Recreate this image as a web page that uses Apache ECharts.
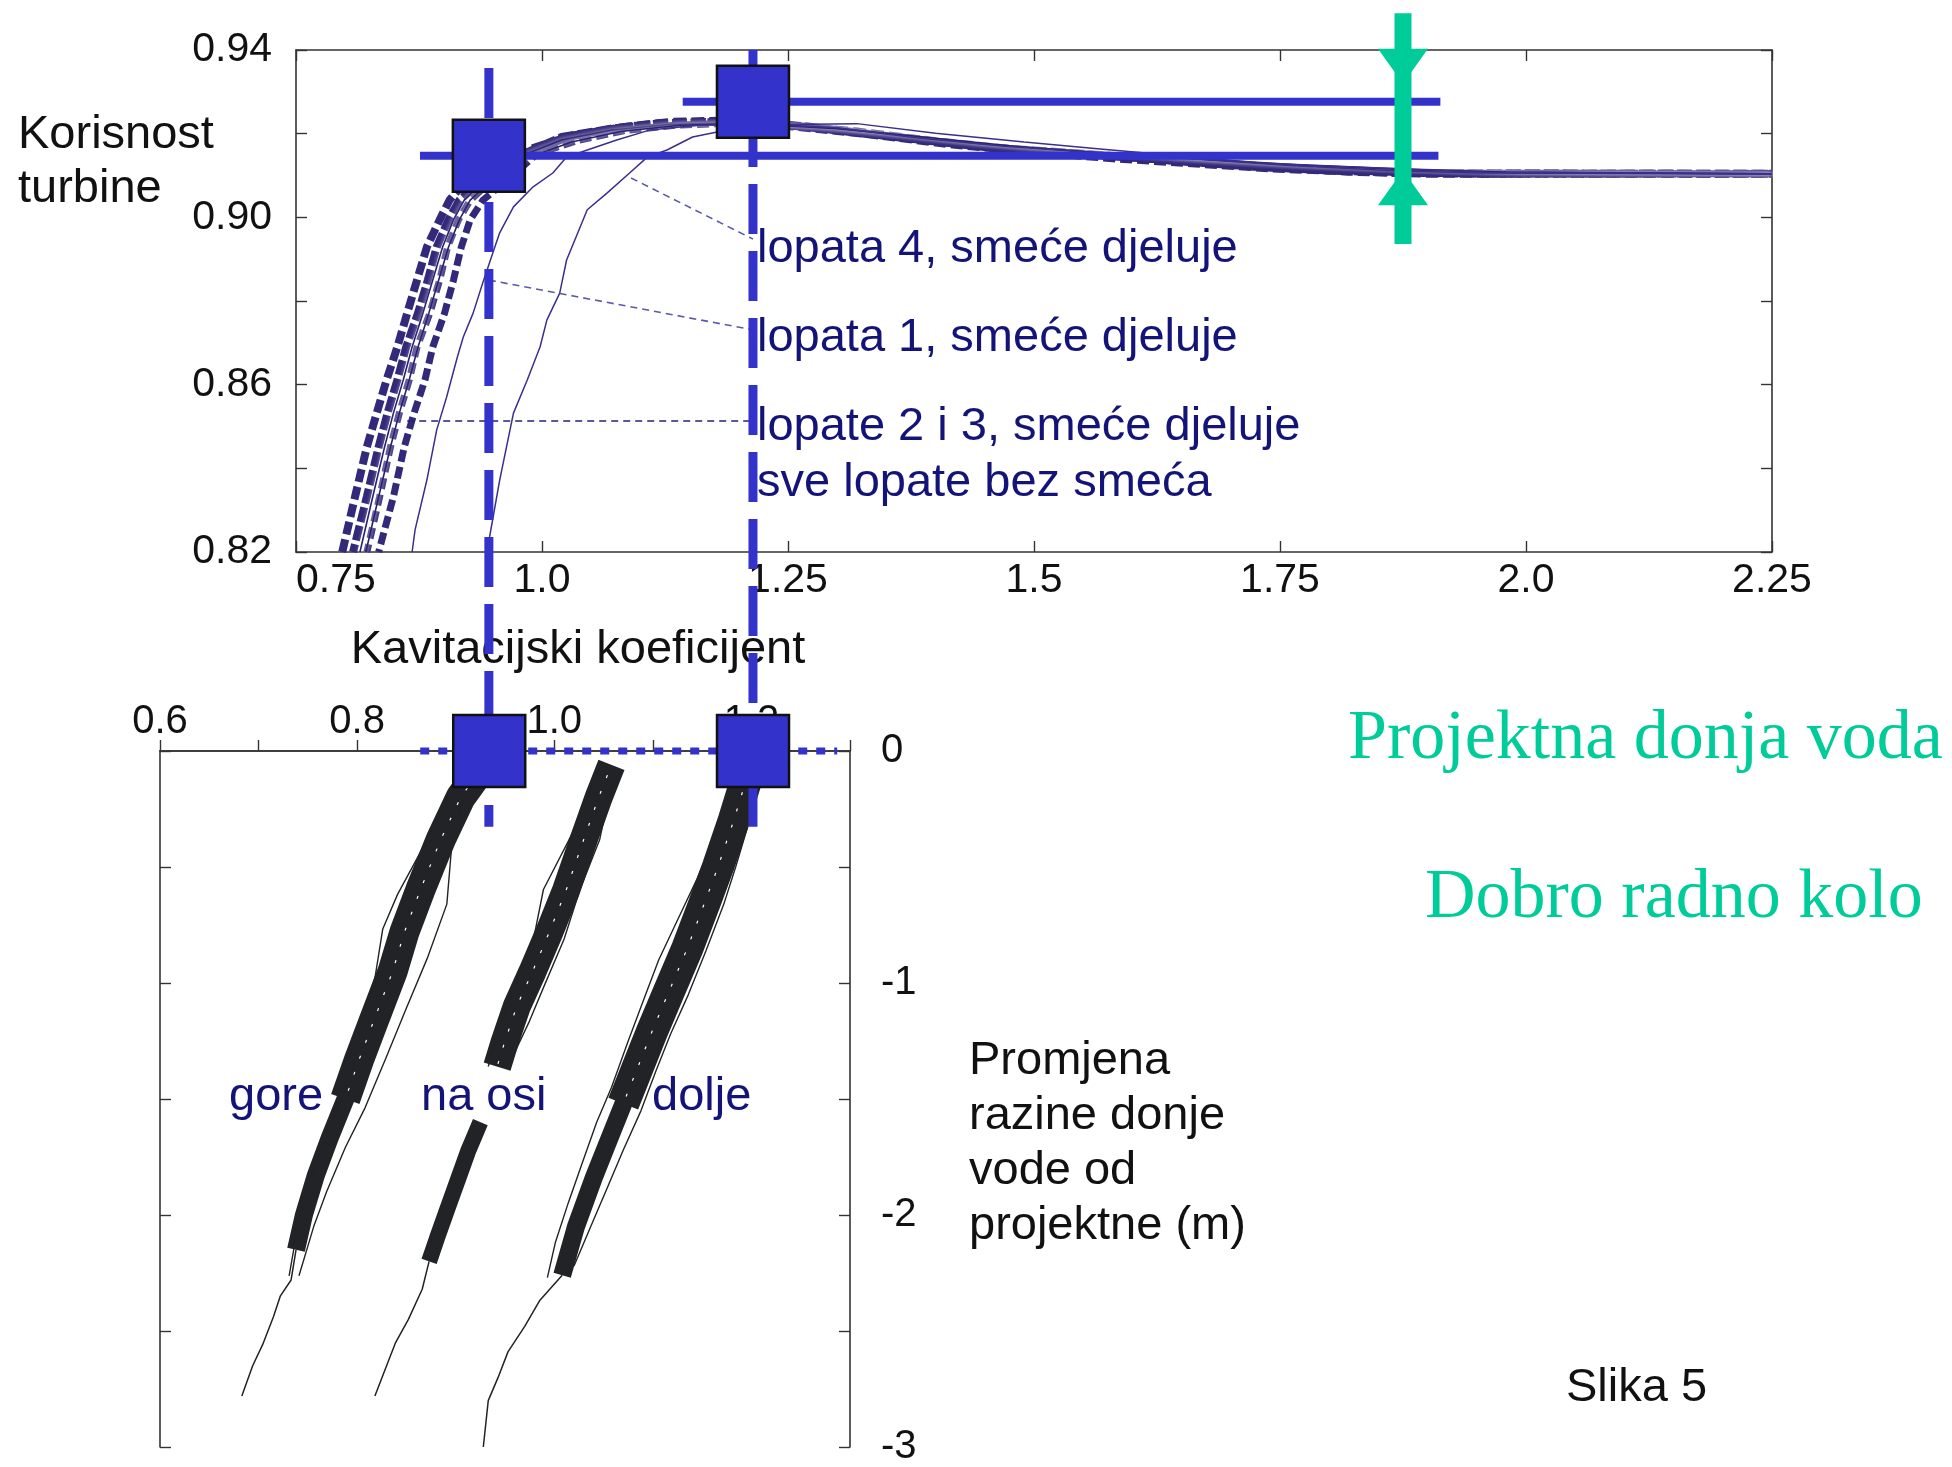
<!DOCTYPE html>
<html><head><meta charset="utf-8">
<script src="https://cdn.jsdelivr.net/npm/echarts@6/dist/echarts.min.js"></script>
<style>html,body{margin:0;padding:0;background:#fff}#chart{width:1952px;height:1467px}</style>
</head><body><div id="chart"></div>
<script>
// ---------- tick labels ----------
const topXTickLabels = ['0.75','1.0','1.25','1.5','1.75','2.0','2.25'];
const topYTickLabels = ['0.82','','0.86','','0.90','','0.94'];
const bottomXTickLabels = ['0.6','','0.8','','1.0','','1.2',''];
const bottomYTickLabels = ['-3','','-2','','-1','','0'];

// ---------- top chart: efficiency vs cavitation coefficient ----------
const bandLeft = [[0.797,0.82],[0.810,0.8332],[0.822,0.8451],[0.832,0.8532],[0.842,0.8611],[0.853,0.869],[0.863,0.8771],[0.873,0.885],[0.883,0.8929],[0.896,0.8994],[0.906,0.9041],[0.92,0.908],[0.96,0.912],[0.99,0.9165],[1.03,0.9195],[1.08,0.9215],[1.13,0.9228],[1.2,0.9232],[1.25,0.922],[1.32,0.9205],[1.4,0.9182],[1.49,0.916],[1.57,0.9148],[1.65,0.9134],[1.73,0.912],[1.81,0.9112],[1.89,0.9106],[1.97,0.9104],[2.25,0.9104]];
const bandMidLeft = [[0.808,0.82],[0.822,0.8332],[0.834,0.8451],[0.843,0.8532],[0.853,0.8611],[0.862,0.869],[0.874,0.8771],[0.884,0.885],[0.893,0.8929],[0.905,0.8994],[0.916,0.9041],[0.94,0.909],[0.975,0.9145],[1.02,0.9192],[1.07,0.9212],[1.12,0.9225],[1.2,0.923],[1.27,0.9217],[1.36,0.9192],[1.45,0.9168],[1.55,0.9152],[1.64,0.9136],[1.72,0.9122],[1.8,0.9112],[1.88,0.9106],[2.25,0.9104]];
const bandMidRight = [[0.822,0.82],[0.835,0.8332],[0.846,0.8451],[0.855,0.8532],[0.865,0.8611],[0.873,0.869],[0.886,0.8771],[0.896,0.885],[0.904,0.8929],[0.915,0.8994],[0.927,0.9041],[0.95,0.909],[0.985,0.915],[1.025,0.919],[1.075,0.9213],[1.125,0.9226],[1.2,0.923],[1.28,0.9212],[1.37,0.9188],[1.46,0.9166],[1.55,0.915],[1.63,0.9137],[1.71,0.9124],[1.79,0.9114],[1.87,0.9107],[1.95,0.9104],[2.25,0.9104]];
const bandRight = [[0.834,0.82],[0.849,0.8332],[0.86,0.8451],[0.87,0.8532],[0.881,0.8611],[0.889,0.869],[0.901,0.8771],[0.91,0.885],[0.918,0.8929],[0.927,0.8994],[0.94,0.9041],[0.965,0.909],[0.995,0.9152],[1.035,0.9183],[1.085,0.9208],[1.135,0.922],[1.2,0.9226],[1.26,0.9215],[1.33,0.9198],[1.42,0.9172],[1.5,0.9155],[1.58,0.914],[1.66,0.9128],[1.74,0.9116],[1.82,0.9108],[1.9,0.9103],[2.25,0.9104]];
const blades23a = [[0.815,0.82],[0.828,0.8332],[0.840,0.8451],[0.849,0.8532],[0.859,0.8611],[0.868,0.869],[0.879,0.8771],[0.889,0.885],[0.899,0.8929],[0.91,0.8994],[0.921,0.9041],[0.94,0.9085],[0.98,0.9148],[1.02,0.9185],[1.07,0.9208],[1.13,0.9222],[1.2,0.9226],[1.28,0.9218],[1.36,0.9198],[1.45,0.9175],[1.55,0.9158],[1.65,0.9142],[1.75,0.9127],[1.85,0.9118],[1.93,0.9112],[2.0,0.9106],[2.25,0.9104]];
const blades23b = [[0.821,0.82],[0.834,0.8332],[0.846,0.8451],[0.855,0.8532],[0.865,0.8611],[0.874,0.869],[0.885,0.8771],[0.895,0.885],[0.905,0.8929],[0.916,0.8994],[0.927,0.9041],[0.946,0.9082],[0.985,0.9142],[1.03,0.918],[1.08,0.9205],[1.14,0.922],[1.21,0.9224],[1.3,0.9212],[1.38,0.9194],[1.48,0.917],[1.58,0.9152],[1.68,0.9138],[1.78,0.9124],[1.88,0.9114],[1.98,0.9108],[2.25,0.9104]];
const blade1 = [[0.868,0.82],[0.871,0.8253],[0.883,0.8372],[0.893,0.8492],[0.903,0.857],[0.914,0.8666],[0.92,0.8714],[0.93,0.8771],[0.94,0.8845],[0.95,0.8915],[0.957,0.8963],[0.971,0.9025],[0.991,0.9073],[1.011,0.9106],[1.025,0.9144],[1.046,0.9161],[1.076,0.9185],[1.11,0.9209],[1.161,0.9221],[1.23,0.9222],[1.3,0.9214],[1.38,0.919],[1.47,0.917],[1.56,0.9155],[1.66,0.914],[1.76,0.9124],[1.86,0.9112],[1.95,0.9106],[2.25,0.9104]];
const blade4 = [[0.944,0.82],[0.957,0.8372],[0.971,0.8532],[0.985,0.8611],[0.998,0.869],[1.005,0.8755],[1.018,0.8819],[1.025,0.8898],[1.046,0.9018],[1.066,0.9058],[1.089,0.9106],[1.107,0.9144],[1.127,0.9161],[1.153,0.9192],[1.178,0.9204],[1.25,0.9222],[1.32,0.9224],[1.40,0.9201],[1.49,0.918],[1.57,0.9163],[1.73,0.913],[1.87,0.9116],[1.96,0.9108],[2.25,0.9104]];
const leader4 = [[1.0905,0.9094],[1.2144,0.8948]];
const leader1 = [[0.946,0.885],[1.2144,0.8731]];
const leader23 = [[0.863,0.8513],[1.2144,0.8513]];
const levelLow = [[0.876,0.9147],[1.911,0.9147]];
const levelHigh = [[1.143,0.9276],[1.913,0.9276]];
const designLeft = [[0.946,0.9357],[0.946,0.7543]];
const designRight = [[1.2144,0.94],[1.2144,0.7543]];
const topSquares = [[0.946,0.9147],[1.2144,0.9276]];
const greenBar = [[1.875,0.9488],[1.875,0.8936]];
const greenDown = [[1.875,0.9361]];
const greenUp = [[1.875,0.9071]];

// ---------- bottom chart: tailwater level change ----------
const goreCore = [[0.922,-0.1],[0.905,-0.2],[0.885,-0.38],[0.864,-0.6],[0.848,-0.78],[0.836,-0.95],[0.818,-1.15],[0.802,-1.33],[0.788,-1.5]];
const goreLower = [[0.79,-1.48],[0.772,-1.67],[0.758,-1.83],[0.746,-2.0],[0.738,-2.15]];
const goreTail = [[0.738,-2.15],[0.733,-2.28],[0.722,-2.35],[0.715,-2.44],[0.704,-2.56],[0.694,-2.65],[0.683,-2.78]];
const goreLeftEdge = [[0.896,-0.158],[0.871,-0.383],[0.841,-0.618],[0.826,-0.767],[0.818,-0.98],[0.803,-1.172],[0.796,-1.368],[0.778,-1.559],[0.761,-1.751],[0.746,-1.922],[0.738,-2.092],[0.731,-2.262]];
const goreRightEdge = [[0.911,-0.158],[0.896,-0.405],[0.891,-0.66],[0.871,-0.895],[0.85,-1.108],[0.829,-1.325],[0.808,-1.538],[0.788,-1.709],[0.769,-1.9],[0.756,-2.049],[0.741,-2.262]];
const naOsiCore = [[1.058,-0.06],[1.045,-0.2],[1.03,-0.38],[1.012,-0.6],[0.995,-0.78],[0.978,-0.95],[0.962,-1.1],[0.95,-1.25],[0.942,-1.36]];
const naOsiLower = [[0.925,-1.6],[0.913,-1.72],[0.902,-1.85],[0.891,-1.98],[0.881,-2.1],[0.873,-2.2]];
const naOsiTail = [[0.873,-2.2],[0.866,-2.32],[0.852,-2.45],[0.839,-2.55],[0.828,-2.67],[0.818,-2.78]];
const naOsiLeftEdge = [[1.046,-0.081],[1.02,-0.341],[0.989,-0.597],[0.979,-0.81],[0.963,-0.98],[0.948,-1.15],[0.933,-1.36]];
const naOsiRightEdge = [[1.061,-0.081],[1.046,-0.383],[1.026,-0.597],[1.01,-0.81],[0.989,-1.02],[0.974,-1.172],[0.953,-1.36]];
const doljeCore = [[1.195,-0.12],[1.182,-0.3],[1.166,-0.5],[1.152,-0.66],[1.135,-0.85],[1.115,-1.05],[1.1,-1.2],[1.085,-1.36],[1.07,-1.52]];
const doljeLower = [[1.072,-1.5],[1.055,-1.68],[1.04,-1.84],[1.022,-2.05],[1.008,-2.26]];
const doljeTail = [[1.008,-2.26],[0.985,-2.37],[0.97,-2.48],[0.953,-2.59],[0.943,-2.7],[0.933,-2.8],[0.928,-3.0]];
const doljeLeftEdge = [[1.185,-0.15],[1.165,-0.35],[1.145,-0.55],[1.126,-0.72],[1.106,-0.9],[1.09,-1.08],[1.075,-1.25],[1.058,-1.45],[1.043,-1.6],[1.028,-1.78],[1.014,-1.95],[1.001,-2.12],[0.993,-2.27]];
const doljeRightEdge = [[1.207,-0.12],[1.198,-0.3],[1.184,-0.5],[1.172,-0.66],[1.154,-0.86],[1.136,-1.05],[1.118,-1.22],[1.103,-1.38],[1.088,-1.55],[1.07,-1.72],[1.054,-1.88],[1.037,-2.05],[1.02,-2.22]];
const designLevel = [[0.864,0],[1.287,0]];
const bottomSquares = [[0.934,0],[1.2016,0]];

// ---------- styling / assembly ----------
const FONT = 'Liberation Sans';
const BLUE = '#3333cc';
const BAND = '#33297a';
const INK = '#222326';
const GREEN = '#00cc99';
const NAVY = '#141478';

function line(data, width, color, extra) {
  return Object.assign({
    type: 'line', data: data, showSymbol: false, symbol: 'none', silent: true,
    lineStyle: { width: width, color: color }, z: 3
  }, extra || {});
}
function topLine(data, width, color, extra) {
  return line(data, width, color, Object.assign({ xAxisIndex: 0, yAxisIndex: 0 }, extra || {}));
}
function botLine(data, width, color, extra) {
  return line(data, width, color, Object.assign({ xAxisIndex: 2, yAxisIndex: 2 }, extra || {}));
}
function dashed(width, color, pattern, offset) {
  return { lineStyle: { width: width, color: color, type: pattern, dashOffset: offset || 0 } };
}

const axisLineStyle = { show: true, lineStyle: { color: '#333', width: 1.6 } };
const tickInside = { show: true, inside: true, length: 11, lineStyle: { color: '#333', width: 1.4 } };
const labelBase = { color: '#111', fontFamily: FONT, fontSize: 41 };
const squareStyle = { color: BLUE, opacity: 1, borderColor: '#111', borderWidth: 2.5 };

const series = [
  topLine(bandLeft, 8, BAND, dashed(8, BAND, [13, 5])),
  topLine(bandMidLeft, 8, BAND, dashed(8, BAND, [15, 4], 7)),
  topLine(bandMidRight, 7, BAND, dashed(7, BAND, [11, 6], 3)),
  topLine(bandRight, 7, BAND, dashed(7, BAND, [12, 5], 9)),
  topLine(blades23a, 1.6, '#2a2070', { lineStyle: { width: 1.6, color: '#2a2070', shadowColor: '#ffffff', shadowBlur: 4 } }),
  topLine(blades23b, 1.6, '#2a2070', { lineStyle: { width: 1.6, color: '#2a2070', shadowColor: '#ffffff', shadowBlur: 4 } }),
  topLine(blade1, 1.5, '#3a2f8a'),
  topLine(blade4, 1.5, '#3a2f8a'),
  topLine(leader4, 1.6, '#5a5aa8', dashed(1.6, '#5a5aa8', [7, 5])),
  topLine(leader1, 1.6, '#5a5aa8', dashed(1.6, '#5a5aa8', [7, 5])),
  topLine(leader23, 1.6, '#22227a', dashed(1.6, '#22227a', [7, 5])),
  topLine(levelLow, 8, BLUE, { z: 5 }),
  topLine(levelHigh, 8, BLUE, { z: 5 }),
  topLine(designLeft, 9, BLUE, Object.assign({ z: 6, clip: false }, dashed(9, BLUE, [50, 17]))),
  topLine(designRight, 9, BLUE, Object.assign({ z: 6, clip: false }, dashed(9, BLUE, [50, 17]))),
  topLine(greenBar, 17, GREEN, { z: 7, clip: false, lineStyle: { width: 17, color: GREEN, cap: 'butt' } }),
  { type: 'scatter', xAxisIndex: 0, yAxisIndex: 0, data: greenDown, symbol: 'triangle', symbolRotate: 180,
    symbolSize: [50, 35], itemStyle: { color: GREEN, opacity: 1 }, z: 7, clip: false, silent: true },
  { type: 'scatter', xAxisIndex: 0, yAxisIndex: 0, data: greenUp, symbol: 'triangle',
    symbolSize: [50, 35], itemStyle: { color: GREEN, opacity: 1 }, z: 7, clip: false, silent: true },
  { type: 'scatter', xAxisIndex: 0, yAxisIndex: 0, data: topSquares, symbol: 'rect', symbolSize: 72,
    itemStyle: squareStyle, z: 9, clip: false, silent: true },

  botLine(goreCore, 30, INK), botLine(goreLower, 18, INK), botLine(goreTail, 1.5, INK),
  botLine(goreLeftEdge, 1.4, INK), botLine(goreRightEdge, 1.4, INK),
  botLine(naOsiCore, 28, INK), botLine(naOsiLower, 16, INK), botLine(naOsiTail, 1.5, INK),
  botLine(naOsiLeftEdge, 1.4, INK), botLine(naOsiRightEdge, 1.4, INK),
  botLine(doljeCore, 32, INK), botLine(doljeLower, 18, INK), botLine(doljeTail, 1.5, INK),
  botLine(doljeLeftEdge, 1.4, INK), botLine(doljeRightEdge, 1.4, INK),
  botLine(goreCore, 1.2, '#ffffff', Object.assign({ z: 4 }, dashed(1.2, '#ffffff', [3, 14]))),
  botLine(naOsiCore, 1.2, '#ffffff', Object.assign({ z: 4 }, dashed(1.2, '#ffffff', [3, 14], 6))),
  botLine(doljeCore, 1.2, '#ffffff', Object.assign({ z: 4 }, dashed(1.2, '#ffffff', [3, 14], 3))),
  botLine(designLevel, 7, BLUE, Object.assign({ z: 6, clip: false }, dashed(7, BLUE, [9, 9]))),
  { type: 'scatter', xAxisIndex: 2, yAxisIndex: 2, data: bottomSquares, symbol: 'rect', symbolSize: 72,
    itemStyle: squareStyle, z: 9, clip: false, silent: true }
];

function txt(x, y, text, size, color, family, align) {
  return { type: 'text', x: x, y: y, z: 1, silent: true,
    style: { text: text, fontSize: size, fontFamily: family || FONT, fill: color || '#111',
             align: align || 'left', verticalAlign: 'middle' } };
}

const option = {
  animation: false,
  backgroundColor: '#ffffff',
  grid: [
    { left: 296, top: 50, width: 1476, height: 502, show: false },
    { left: 160, top: 751, width: 690, height: 704, show: false }
  ],
  xAxis: [
    { gridIndex: 0, type: 'value', position: 'bottom', min: 0.75, max: 2.25, interval: 0.25,
      axisLine: axisLineStyle, axisTick: tickInside, splitLine: { show: false },
      axisLabel: Object.assign({}, labelBase, { margin: 8, alignMinLabel: 'left',
        formatter: v => topXTickLabels[Math.round((v - 0.75) / 0.25)] || '' }) },
    { gridIndex: 0, type: 'value', position: 'top', min: 0.75, max: 2.25, interval: 0.25,
      axisLine: axisLineStyle, axisTick: tickInside, splitLine: { show: false }, axisLabel: { show: false } },
    { gridIndex: 1, type: 'value', position: 'top', min: 0.6, max: 1.3, interval: 0.1,
      axisLine: axisLineStyle, axisTick: { show: false }, splitLine: { show: false },
      axisLabel: Object.assign({}, labelBase, { fontSize: 40, margin: 9,
        formatter: v => bottomXTickLabels[Math.round((v - 0.6) / 0.1)] || '' }) },
    { gridIndex: 1, type: 'value', position: 'bottom', min: 0.6, max: 1.3, interval: 0.1,
      axisLine: axisLineStyle, axisTick: tickInside, splitLine: { show: false }, axisLabel: { show: false } }
  ],
  yAxis: [
    { gridIndex: 0, type: 'value', position: 'left', min: 0.82, max: 0.94, interval: 0.02,
      axisLine: axisLineStyle, axisTick: tickInside, splitLine: { show: false },
      axisLabel: Object.assign({}, labelBase, { margin: 24,
        formatter: v => topYTickLabels[Math.round((v - 0.82) / 0.02)] || '' }) },
    { gridIndex: 0, type: 'value', position: 'right', min: 0.82, max: 0.94, interval: 0.02,
      axisLine: axisLineStyle, axisTick: tickInside, splitLine: { show: false }, axisLabel: { show: false } },
    { gridIndex: 1, type: 'value', position: 'right', min: -3, max: 0, interval: 0.5,
      axisLine: axisLineStyle, axisTick: tickInside, splitLine: { show: false },
      axisLabel: Object.assign({}, labelBase, { fontSize: 40, margin: 31,
        formatter: v => bottomYTickLabels[Math.round((v + 3) / 0.5)] || '' }) },
    { gridIndex: 1, type: 'value', position: 'left', min: -3, max: 0, interval: 0.5,
      axisLine: axisLineStyle, axisTick: tickInside, splitLine: { show: false }, axisLabel: { show: false } }
  ],
  graphic: [
    txt(18, 135, 'Korisnost', 47),
    txt(18, 189, 'turbine', 47),
    txt(578, 650, 'Kavitacijski koeficijent', 47, '#111', FONT, 'center'),
    txt(757, 249, 'lopata 4, smeće djeluje', 47, NAVY),
    txt(757, 338, 'lopata 1, smeće djeluje', 47, NAVY),
    txt(757, 427, 'lopate 2 i 3, smeće djeluje', 47, NAVY),
    txt(757, 483, 'sve lopate bez smeća', 47, NAVY),
    txt(1348, 740, 'Projektna donja voda', 70, GREEN, 'Liberation Serif'),
    txt(1425, 899, 'Dobro radno kolo', 70, GREEN, 'Liberation Serif'),
    txt(229, 1097, 'gore', 47, NAVY),
    txt(421, 1097, 'na osi', 47, NAVY),
    txt(652, 1097, 'dolje', 47, NAVY),
    txt(969, 1061, 'Promjena', 47),
    txt(969, 1116, 'razine donje', 47),
    txt(969, 1171, 'vode od', 47),
    txt(969, 1226, 'projektne (m)', 47),
    txt(1566, 1388, 'Slika 5', 47)
  ],
  series: series
};

const chart = echarts.init(document.getElementById('chart'), null, { renderer: 'canvas' });
chart.setOption(option);
</script>
</body></html>
